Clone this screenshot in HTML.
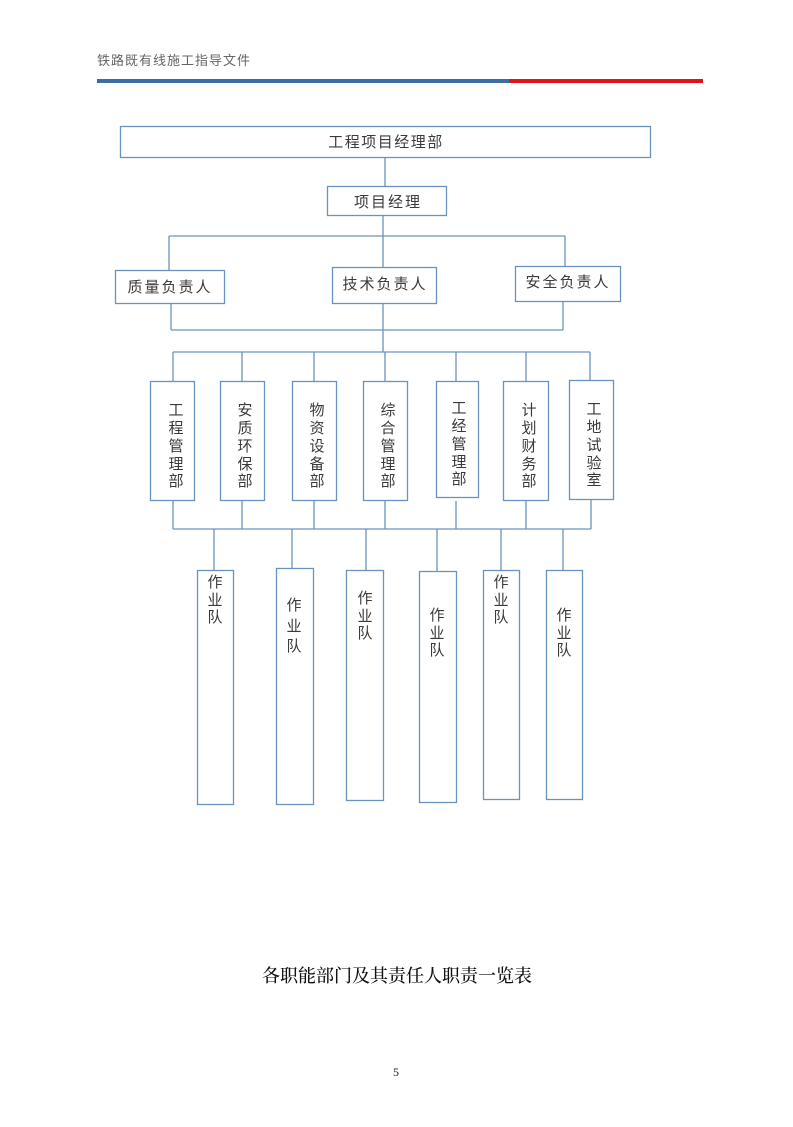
<!DOCTYPE html>
<html><head><meta charset="utf-8"><style>
body{margin:0;background:#fff;}
svg text{font-family:"Liberation Sans","Noto Sans CJK SC",sans-serif;fill:#3a3a3a;}
</style></head><body>
<svg width="793" height="1122" viewBox="0 0 793 1122" xmlns="http://www.w3.org/2000/svg">
<text x="97" y="65" font-size="13" style="fill:#666" letter-spacing="1">铁路既有线施工指导文件</text>
<rect x="97" y="79" width="412" height="4" fill="#3a6ea5"/>
<rect x="509" y="79" width="194" height="4" fill="#e0141c"/>
<g fill="none" stroke="#6a93bd" stroke-width="1.3">
<rect x="120.5" y="126.5" width="530" height="31"/>
<line x1="385" y1="157" x2="385" y2="186"/>
<rect x="327.5" y="186.5" width="119" height="29"/>
<line x1="383" y1="215" x2="383" y2="267"/>
<line x1="169" y1="236" x2="565" y2="236"/>
<line x1="169" y1="236" x2="169" y2="270"/>
<line x1="565" y1="236" x2="565" y2="266"/>
<rect x="115.5" y="270.5" width="109" height="33"/>
<rect x="332.5" y="267.5" width="104" height="36"/>
<rect x="515.5" y="266.5" width="105" height="35"/>
<line x1="171" y1="303" x2="171" y2="330"/>
<line x1="563" y1="301" x2="563" y2="330"/>
<line x1="171" y1="330" x2="563" y2="330"/>
<line x1="383" y1="303" x2="383" y2="352"/>
<line x1="173" y1="352" x2="590" y2="352"/>
<line x1="173" y1="352" x2="173" y2="381"/>
<line x1="242" y1="352" x2="242" y2="381"/>
<line x1="314" y1="352" x2="314" y2="381"/>
<line x1="385" y1="352" x2="385" y2="381"/>
<line x1="456" y1="352" x2="456" y2="381"/>
<line x1="526" y1="352" x2="526" y2="381"/>
<line x1="590" y1="352" x2="590" y2="380"/>
<rect x="150.5" y="381.5" width="44" height="119"/>
<rect x="220.5" y="381.5" width="44" height="119"/>
<rect x="292.5" y="381.5" width="44" height="119"/>
<rect x="363.5" y="381.5" width="44" height="119"/>
<rect x="436.5" y="381.5" width="42" height="116"/>
<rect x="503.5" y="381.5" width="45" height="119"/>
<rect x="569.5" y="380.5" width="44" height="119"/>
<line x1="173" y1="500" x2="173" y2="529"/>
<line x1="242" y1="500" x2="242" y2="529"/>
<line x1="314" y1="500" x2="314" y2="529"/>
<line x1="385" y1="500" x2="385" y2="529"/>
<line x1="456" y1="501" x2="456" y2="529"/>
<line x1="526" y1="500" x2="526" y2="529"/>
<line x1="591" y1="499" x2="591" y2="529"/>
<line x1="173" y1="529" x2="591" y2="529"/>
<line x1="214" y1="529" x2="214" y2="570"/>
<line x1="292" y1="529" x2="292" y2="568"/>
<line x1="366" y1="529" x2="366" y2="570"/>
<line x1="437" y1="529" x2="437" y2="571"/>
<line x1="501" y1="529" x2="501" y2="570"/>
<line x1="563" y1="529" x2="563" y2="570"/>
<rect x="197.5" y="570.5" width="36" height="234"/>
<rect x="276.5" y="568.5" width="37" height="236"/>
<rect x="346.5" y="570.5" width="37" height="230"/>
<rect x="419.5" y="571.5" width="37" height="231"/>
<rect x="483.5" y="570.5" width="36" height="229"/>
<rect x="546.5" y="570.5" width="36" height="229"/>
</g>
<g font-size="15" text-anchor="middle">
<text x="386" y="147" letter-spacing="1.5">工程项目经理部</text>
<text x="388" y="207" letter-spacing="2">项目经理</text>
<text x="170" y="292" letter-spacing="2">质量负责人</text>
<text x="385" y="289" letter-spacing="2">技术负责人</text>
<text x="568" y="287" letter-spacing="2">安全负责人</text>
</g>
<g font-size="15" text-anchor="middle">
<text x="176" y="415">工</text><text x="176" y="433">程</text><text x="176" y="451">管</text><text x="176" y="469">理</text><text x="176" y="486">部</text>
<text x="245" y="415">安</text><text x="245" y="433">质</text><text x="245" y="451">环</text><text x="245" y="469">保</text><text x="245" y="486">部</text>
<text x="317" y="415">物</text><text x="317" y="433">资</text><text x="317" y="451">设</text><text x="317" y="469">备</text><text x="317" y="486">部</text>
<text x="388" y="415">综</text><text x="388" y="433">合</text><text x="388" y="451">管</text><text x="388" y="469">理</text><text x="388" y="486">部</text>
<text x="459" y="413">工</text><text x="459" y="431">经</text><text x="459" y="449">管</text><text x="459" y="467">理</text><text x="459" y="484">部</text>
<text x="529" y="415">计</text><text x="529" y="433">划</text><text x="529" y="451">财</text><text x="529" y="469">务</text><text x="529" y="486">部</text>
<text x="594" y="414">工</text><text x="594" y="432">地</text><text x="594" y="450">试</text><text x="594" y="468">验</text><text x="594" y="485">室</text>
</g>
<g font-size="15" text-anchor="middle">
<text x="215" y="587">作</text><text x="215" y="605">业</text><text x="215" y="622">队</text>
<text x="294" y="610">作</text><text x="294" y="631">业</text><text x="294" y="651">队</text>
<text x="365" y="603">作</text><text x="365" y="621">业</text><text x="365" y="638">队</text>
<text x="437" y="620">作</text><text x="437" y="638">业</text><text x="437" y="655">队</text>
<text x="501" y="587">作</text><text x="501" y="605">业</text><text x="501" y="622">队</text>
<text x="564" y="620">作</text><text x="564" y="638">业</text><text x="564" y="655">队</text>
</g>
<text x="397" y="982" font-size="18" text-anchor="middle" style="fill:#111;font-family:'Liberation Serif','Noto Serif CJK SC',serif;font-weight:500">各职能部门及其责任人职责一览表</text>
<text x="396" y="1076" font-size="12" text-anchor="middle" style="fill:#222;font-family:'Liberation Serif',serif">5</text>
</svg>
</body></html>
